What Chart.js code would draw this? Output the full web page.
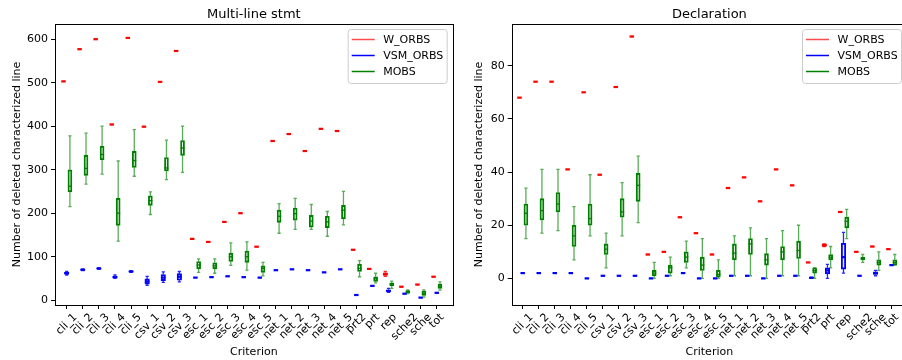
<!DOCTYPE html>
<html>
<head>
<meta charset="utf-8">
<script src="https://cdn.jsdelivr.net/npm/chart.js@4.4.1/dist/chart.umd.min.js"></script>
<style>
  body { margin: 0; width: 902px; height: 360px; overflow: hidden; background: #fff; position: relative; }
  .wrap { position: absolute; top: 0; height: 360px; }
  #wrapStmt { left: 0; width: 462px; }
  #wrapDecl { left: 462px; width: 452px; }
</style>
</head>
<body>
<div class="wrap" id="wrapStmt"><canvas id="stmtChart"></canvas></div>
<div class="wrap" id="wrapDecl"><canvas id="declChart"></canvas></div>
<script>
// ===== Data =====
const categories = ['cli_1', 'cli_2', 'cli_3', 'cli_4', 'cli_5', 'csv_1', 'csv_2', 'csv_3',
  'esc_1', 'esc_2', 'esc_3', 'esc_4', 'esc_5', 'net_1', 'net_2', 'net_3', 'net_4', 'net_5',
  'prt2', 'prt', 'rep', 'sche2', 'sche', 'tot'];

const seriesNames = ['W_ORBS', 'VSM_ORBS', 'MOBS'];

// each entry: [low whisker, q1, median, q3, high whisker]
const stmtW = [
  [503, 503, 503, 503, 503], [577, 577, 577, 577, 577], [600, 600, 600, 600, 600], [404, 404, 404, 404, 404],
  [603, 603, 603, 603, 603], [399, 399, 399, 399, 399], [502, 502, 502, 502, 502], [573, 573, 573, 573, 573],
  [141, 141, 141, 141, 141], [134, 134, 134, 134, 134], [180, 180, 180, 180, 180], [200, 200, 200, 200, 200],
  [123, 123, 123, 123, 123], [366, 366, 366, 366, 366], [382, 382, 382, 382, 382], [343, 343, 343, 343, 343],
  [394, 394, 394, 394, 394], [389, 389, 389, 389, 389], [116, 116, 116, 116, 116], [72, 72, 72, 72, 72],
  [55, 57, 60, 63, 66], [31, 31, 31, 31, 31], [36, 36, 36, 36, 36], [54, 54, 54, 54, 54]
];
const stmtVsm = [
  [58, 60, 62, 64, 66], [68, 69, 70, 71, 72], [71, 72, 73, 74, 75], [50, 52, 53, 55, 58],
  [64, 65, 66, 67, 68], [34, 37, 43, 49, 55], [41, 45, 52, 59, 65], [42, 46, 54, 61, 66],
  [52, 52, 52, 52, 52], [53, 53, 53, 53, 53], [55, 55, 55, 55, 55], [53, 53, 53, 53, 53],
  [52, 52, 52, 52, 52], [69, 69, 69, 69, 69], [71, 71, 71, 71, 71], [69, 69, 69, 69, 69],
  [64, 64, 64, 64, 64], [71, 71, 71, 71, 71], [12, 12, 12, 12, 12], [33, 33, 33, 33, 33],
  [18, 20, 21, 24, 27], [15, 15, 15, 15, 15], [6, 6, 6, 6, 6], [17, 17, 17, 17, 17]
];
const stmtMobs = [
  [215, 249, 262, 300, 378], [267, 287, 303, 333, 384], [290, 323, 335, 354, 400], [136, 172, 200, 234, 320],
  [285, 305, 321, 342, 392], [197, 218, 229, 240, 249], [277, 297, 304, 328, 368], [294, 333, 350, 367, 400],
  [64, 72, 81, 89, 95], [62, 72, 79, 86, 95], [80, 89, 100, 108, 132], [69, 87, 100, 113, 134],
  [56, 64, 73, 79, 87], [154, 179, 193, 207, 222], [163, 184, 199, 212, 234], [163, 168, 182, 195, 220],
  [147, 167, 180, 193, 204], [173, 187, 207, 218, 250], [54, 66, 73, 83, 91], [40, 43, 49, 54, 62],
  [27, 33, 37, 40, 44], [15, 17, 20, 22, 24], [7, 11, 16, 21, 24], [23, 27, 31, 37, 42]
];

const declW = [
  [68, 68, 68, 68, 68], [74, 74, 74, 74, 74], [74, 74, 74, 74, 74], [41, 41, 41, 41, 41],
  [70, 70, 70, 70, 70], [39, 39, 39, 39, 39], [72, 72, 72, 72, 72], [91, 91, 91, 91, 91],
  [9, 9, 9, 9, 9], [10, 10, 10, 10, 10], [23, 23, 23, 23, 23], [17, 17, 17, 17, 17],
  [9, 9, 9, 9, 9], [34, 34, 34, 34, 34], [38, 38, 38, 38, 38], [29, 29, 29, 29, 29],
  [41, 41, 41, 41, 41], [35, 35, 35, 35, 35], [6, 6, 6, 6, 6], [12, 12, 12.5, 13, 13],
  [25, 25, 25, 25, 25], [10, 10, 10, 10, 10], [12, 12, 12, 12, 12], [11, 11, 11, 11, 11]
];
const declVsm = [
  [2, 2, 2, 2, 2], [2, 2, 2, 2, 2], [2, 2, 2, 2, 2], [2, 2, 2, 2, 2],
  [0, 0, 0, 0, 0], [1, 1, 1, 1, 1], [1, 1, 1, 1, 1], [1, 1, 1, 1, 1],
  [0, 0, 0, 0, 0], [1, 1, 1, 1, 1], [2, 2, 2, 2, 2], [0, 0, 0, 0, 0],
  [0, 0, 0, 0, 0], [1, 1, 1, 1, 1], [1, 1, 1, 1, 1], [0, 0, 0, 0, 0],
  [1, 1, 1, 1, 1], [1, 1, 1, 1, 1], [0, 0, 0.2, 0.5, 0.5], [0, 1.7, 3, 4, 5.3],
  [2, 3.5, 8, 13.2, 17.3], [1, 1, 1, 1, 1], [1, 1.5, 2, 2.5, 3], [5, 5, 5, 5, 5]
];
const declMobs = [
  [15, 20, 24.5, 28, 34], [17, 22, 25.5, 30, 41], [18, 25, 28, 32.3, 41], [7, 12, 16, 20, 27],
  [16, 20, 22.5, 28, 39], [4, 9, 11, 13, 17], [16, 23, 25, 30, 36], [21, 29, 35, 39.5, 46],
  [0, 1, 2, 3, 6], [1, 2, 4, 5, 8], [4, 6, 8, 10, 14], [0, 3, 5, 8, 15],
  [0, 0.5, 1.5, 3, 7], [1, 7, 9.5, 13, 16], [1, 9, 13, 15, 19], [0, 5, 7, 9.3, 15],
  [1, 7, 10, 12, 18], [1, 7.5, 10.5, 14, 20], [0, 2, 3, 4, 4], [4, 7, 8, 9, 12],
  [15, 19, 21.5, 23, 26], [6, 7, 7.5, 8, 9], [3, 5, 6, 7, 10], [5, 5, 6, 7, 9]
];

const stmtTicks = [0, 100, 200, 300, 400, 500, 600];
const declTicks = [0, 20, 40, 60, 80];

// ===== Styling =====
const FONT = 'DejaVu Sans';
Chart.defaults.font.family = FONT;
Chart.defaults.font.size = 11;
Chart.defaults.color = '#000';

const STYLES = [
  { color: '#ff0000', whisker: 'rgba(255,0,0,0.85)', fill: 'rgba(255,0,0,0.08)', legend: 'rgba(255,0,0,0.7)', shift: -0.2, width: 4.5, median: 2.2 },
  { color: '#0000ff', whisker: 'rgba(0,0,255,0.85)', fill: 'rgba(0,0,255,0.08)', legend: '#0000ff', shift: 0, width: 4.5, median: 2.2 },
  { color: '#008000', whisker: 'rgba(0,128,0,0.65)', fill: 'rgba(0,128,0,0.06)', legend: '#008000', shift: 0.2, width: 4, median: 1.3 }
];

// ===== Plugins =====
const boxWhiskers = {
  id: 'boxWhiskers',
  afterDatasetsDraw(chart) {
    const { ctx, scales: { x, y } } = chart;
    ctx.save();
    chart.data.datasets.forEach(ds => {
      ds.stats.forEach((s, i) => {
        const px = x.getPixelForValue(i + ds.xShift);
        const [lo, q1, med, q3, hi] = s.map(v => y.getPixelForValue(v));
        const half = ds.barThickness / 2;
        ctx.strokeStyle = ds.whiskerColor;
        ctx.lineWidth = 1.3;
        ctx.beginPath();
        ctx.moveTo(px, q1); ctx.lineTo(px, lo);
        ctx.moveTo(px, q3); ctx.lineTo(px, hi);
        ctx.moveTo(px - 1.6, lo); ctx.lineTo(px + 1.6, lo);
        ctx.moveTo(px - 1.6, hi); ctx.lineTo(px + 1.6, hi);
        ctx.stroke();
        ctx.strokeStyle = ds.borderColor;
        ctx.lineWidth = ds.medianWidth;
        ctx.beginPath();
        ctx.moveTo(px - half, med); ctx.lineTo(px + half, med);
        ctx.stroke();
      });
    });
    ctx.restore();
  }
};

const frameAndText = {
  id: 'frameAndText',
  afterDraw(chart) {
    const { ctx, chartArea: ca, scales: { x } } = chart;
    const opts = chart.options.plugins.frameAndText;
    ctx.save();

    // axes frame
    ctx.strokeStyle = '#000';
    ctx.lineWidth = 1;
    ctx.strokeRect(Math.round(ca.left) + 0.5, Math.round(ca.top) + 0.5,
      Math.round(ca.right - ca.left), Math.round(ca.bottom - ca.top));

    // title centred over the plot
    ctx.fillStyle = '#000';
    ctx.font = `13px "${FONT}"`;
    ctx.textAlign = 'center';
    ctx.textBaseline = 'alphabetic';
    ctx.fillText(opts.title, (ca.left + ca.right) / 2, 18);

    // rotated category labels, centred under each tick
    ctx.font = `11px "${FONT}"`;
    categories.forEach((label, i) => {
      const px = x.getPixelForValue(i);
      const w = ctx.measureText(label).width;
      const d = (w + 13) * Math.SQRT1_2;
      ctx.save();
      ctx.translate(px, ca.bottom + 6 + d / 2);
      ctx.rotate(-Math.PI / 4);
      ctx.textAlign = 'center';
      ctx.textBaseline = 'middle';
      ctx.fillText(label, 0, 0);
      ctx.restore();
    });

    // legend box, upper right inside the axes
    const lw = 99, lh = 54;
    const lx = ca.right - 5.5 - lw, ly = ca.top + 5.5;
    ctx.beginPath();
    ctx.roundRect(lx, ly, lw, lh, 3);
    ctx.fillStyle = 'rgba(255,255,255,0.8)';
    ctx.fill();
    ctx.strokeStyle = '#cccccc';
    ctx.stroke();
    ctx.textAlign = 'left';
    ctx.textBaseline = 'middle';
    seriesNames.forEach((name, k) => {
      const ry = ly + 10 + k * 16;
      ctx.strokeStyle = STYLES[k].legend;
      ctx.lineWidth = 1.5;
      ctx.beginPath();
      ctx.moveTo(lx + 3.5, ry); ctx.lineTo(lx + 26.5, ry);
      ctx.stroke();
      ctx.fillStyle = '#000';
      ctx.fillText(name, lx + 35, ry + 0.5);
    });
    ctx.restore();
  }
};

// ===== Chart factory =====
function makeChart(canvasId, cfg) {
  const datasets = cfg.series.map((stats, k) => ({
    label: seriesNames[k],
    stats: stats,
    xShift: STYLES[k].shift,
    whiskerColor: STYLES[k].whisker,
    medianWidth: STYLES[k].median,
    data: stats.map((s, i) => ({ x: i + STYLES[k].shift, y: [s[1], s[3]] })),
    backgroundColor: STYLES[k].fill,
    borderColor: STYLES[k].color,
    borderWidth: 1.2,
    borderSkipped: false,
    barThickness: STYLES[k].width,
    grouped: false
  }));

  return new Chart(document.getElementById(canvasId), {
    type: 'bar',
    data: { datasets },
    options: {
      responsive: true,
      maintainAspectRatio: false,
      animation: false,
      devicePixelRatio: 1,
      layout: { padding: { left: 0, right: cfg.padRight, top: 24, bottom: 0 } },
      plugins: {
        legend: { display: false },
        tooltip: { enabled: false },
        title: { display: false },
        frameAndText: { title: cfg.title }
      },
      scales: {
        x: {
          type: 'linear',
          min: cfg.xMin,
          max: cfg.xMax,
          offset: false,
          afterBuildTicks: scale => { scale.ticks = categories.map((c, i) => ({ value: i })); },
          afterFit: scale => { scale.height = 55; },
          ticks: { display: false, autoSkip: false },
          grid: { display: true, offset: false, drawOnChartArea: false, drawTicks: true, tickLength: 4, color: '#000' },
          border: { display: false },
          title: { display: true, text: 'Criterion', font: { size: 11 }, padding: { top: 0, bottom: 1 } }
        },
        y: {
          type: 'linear',
          min: cfg.yMin,
          max: cfg.yMax,
          beginAtZero: false,
          afterBuildTicks: scale => { scale.ticks = cfg.yTicks.map(v => ({ value: v })); },
          afterFit: scale => { scale.width = cfg.yWidth; },
          ticks: { padding: 3, font: { size: 11 } },
          grid: { display: true, drawOnChartArea: false, drawTicks: true, tickLength: 4, color: '#000' },
          border: { display: false },
          title: { display: true, text: 'Number of deleted characterized line', font: { size: 11 }, padding: { top: 10.6, bottom: 0 } }
        }
      }
    },
    plugins: [boxWhiskers, frameAndText]
  });
}

makeChart('stmtChart', {
  title: 'Multi-line stmt',
  series: [stmtW, stmtVsm, stmtMobs],
  yTicks: stmtTicks,
  xMin: -0.727, xMax: 23.99,
  yMin: -11, yMax: 635,
  yWidth: 55, padRight: 9.3
});

makeChart('declChart', {
  title: 'Declaration',
  series: [declW, declVsm, declMobs],
  yTicks: declTicks,
  xMin: -0.686, xMax: 23.96,
  yMin: -10, yMax: 95.7,
  yWidth: 49.7, padRight: 7
});
</script>
</body>
</html>
